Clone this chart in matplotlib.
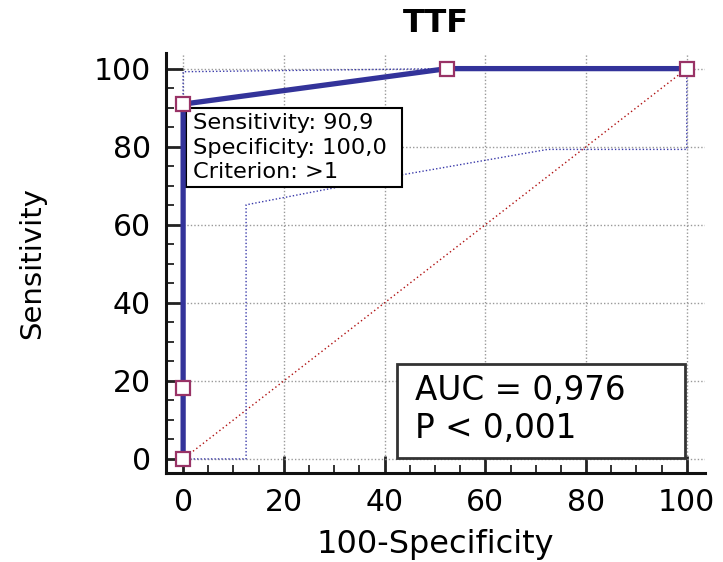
import matplotlib
matplotlib.use("Agg")
import matplotlib.pyplot as plt
from matplotlib.patches import Rectangle
from matplotlib.ticker import MultipleLocator

plt.rcParams['font.family'] = ['DejaVu Sans']

# ROC curve
fpr = [0, 0, 0, 52.4, 100]
tpr = [0, 18.2, 90.9, 100, 100]
# confidence bands
upper_x = [0, 0, 52.4, 100]
upper_y = [0, 99.2, 100, 100]
lower_x = [0, 12.5, 12.5, 43.5, 68.8, 72.4, 100, 100]
lower_y = [0, 0, 65.1, 72.8, 78.5, 79.3, 79.3, 100]
diag = [0, 100]
ticks = [0, 20, 40, 60, 80, 100]

title = "TTF"
xlabel = "100-Specificity"
ylabel = "Sensitivity"
crit_text = "Sensitivity: 90,9\nSpecificity: 100,0\nCriterion: >1"
auc_text = "AUC = 0,976"
p_text = "P < 0,001"

fig = plt.figure(figsize=(7.23, 5.62), dpi=100)
ax = fig.add_axes([0.2296, 0.1584, 0.975 - 0.2296, 0.9057 - 0.1584])
ax.set_xlim(-3.4, 103.6)
ax.set_ylim(-3.6, 104)

for s in ['top', 'right']:
    ax.spines[s].set_visible(False)
for s in ['left', 'bottom']:
    ax.spines[s].set_linewidth(2.2)
    ax.spines[s].set_color('#111111')

ax.set_xticks(ticks)
ax.set_yticks(ticks)
ax.xaxis.set_minor_locator(MultipleLocator(5))
ax.yaxis.set_minor_locator(MultipleLocator(5))
ax.tick_params(which='major', direction='in', length=12.5, width=2.0, labelsize=21.5, pad=11, color='#222222')
ax.tick_params(which='minor', direction='in', length=6, width=1.3, color='#222222')
ax.grid(True, which='major', linestyle=(0, (1, 1.5)), color='#999999', linewidth=1.0)
ax.set_axisbelow(True)

ax.plot(diag, diag, linestyle=(0, (1, 2)), color='#b01010', linewidth=1.0, zorder=2)
ax.plot(upper_x, upper_y, linestyle=(0, (1, 1.5)), color='#3a3aaa', linewidth=1.0, zorder=2)
ax.plot(lower_x, lower_y, linestyle=(0, (1, 1.5)), color='#3a3aaa', linewidth=1.0, zorder=2)

# annotation box
ax.add_patch(Rectangle((0.6, 69.6), 42.9, 20.4, facecolor='white', edgecolor='black', linewidth=1.5, zorder=3))
ax.text(2.0, 88.6, crit_text, fontsize=16.2, ha='left', va='top', linespacing=1.28, zorder=4)

ax.plot(fpr, tpr, color='#33339a', linewidth=3.8, zorder=5, marker='s', markersize=10,
        markerfacecolor='white', markeredgecolor='#993366', markeredgewidth=1.6, clip_on=False)

# AUC box
ax.add_patch(Rectangle((42.5, 0.3), 57.1, 24.1, facecolor='white', edgecolor='#333333', linewidth=2.0, zorder=6))
ax.text(46.0, 15.1, auc_text, fontsize=23.5, ha='left', va='baseline', zorder=7)
ax.text(46.0, 5.4, p_text, fontsize=23.5, ha='left', va='baseline', zorder=7)

ax.set_title(title, fontsize=23, fontweight='bold', pad=15)
ax.set_xlabel(xlabel, fontsize=23, labelpad=8.5)
ax.set_ylabel(ylabel, fontsize=21, labelpad=34)

fig.savefig("out.png", dpi=100)
